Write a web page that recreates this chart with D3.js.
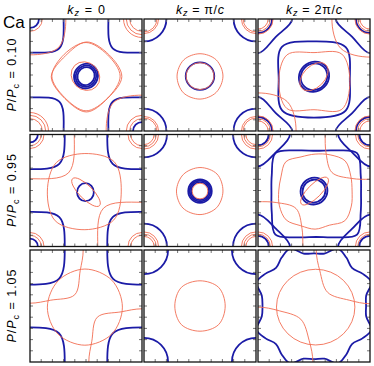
<!DOCTYPE html>
<html><head><meta charset="utf-8">
<script src="https://cdn.jsdelivr.net/npm/d3@7"></script>
<style>body{margin:0;background:#fff}svg{display:block}</style>
</head><body><svg id="c" width="374" height="366"></svg>
<script>
// ---- labels ----
const kzLabels = ["0", "π/", "2π/"];
const pLabels = ["0.10", "0.95", "1.05"];
const ALL = ["TL", "TR", "BL", "BR"];
// ---- contour data (k-space, panel spans -1..1); r = radii at evenly spaced angles from +kx, e = [a, b, tilt°] ----
const p010_kz0 = [
  {c:"b", at:ALL, r:[0.60,0.74,0.60,0.74,0.60,0.74,0.60,0.74]},
  {c:"b", at:["TL","BR"], e:[0.16,0.16,0]},
  {c:"b", at:[[0,-0.02]], e:[0.225,0.21,60]},
  {c:"b", at:[[0,-0.02]], e:[0.195,0.18,60]},
  {c:"b", at:[[0,-0.02]], e:[0.165,0.15,60]},
  {c:"r", at:["TL","BR"], r:[0.64,0.72,0.64,0.72,0.64,0.72,0.64,0.72]},
  {c:"r", at:ALL, e:[0.22,0.22,0]},
  {c:"r", at:["TR","BL","BR"], e:[0.28,0.28,0]},
  {c:"r", at:["TR","BL"], e:[0.33,0.33,0]},
  {c:"r", at:[[0,-0.02]], r:[0.61,0.54,0.60,0.55,0.61,0.54,0.62,0.55]},
  {c:"r", at:[[0.01,-0.03]], r:[0.63,0.56,0.62,0.53,0.63,0.55,0.63,0.54]},
  {c:"r", at:[[-0.01,-0.02]], e:[0.27,0.24,-45]}
];
const p010_kzPi = [
  {c:"b", at:ALL, e:[0.40,0.40,0]},
  {c:"b", at:[[0,-0.02]], e:[0.255,0.245,0]},
  {c:"r", at:ALL, e:[0.23,0.23,0]},
  {c:"r", at:ALL, e:[0.26,0.26,0]},
  {c:"r", at:[[0,-0.02]], r:[0.41,0.41,0.40,0.41,0.41,0.42,0.41,0.41]},
  {c:"r", at:[[0,-0.02]], e:[0.25,0.24,0]}
];
const p010_kz2Pi = [
  {c:"b", at:ALL, r:[0.61,0.45,0.61,0.45,0.61,0.45,0.61,0.45]},
  {c:"b", at:ALL, e:[0.25,0.25,0]},
  {c:"b", at:[[0,-0.07]], r:[0.64,0.80,0.67,0.81,0.63,0.80,0.69,0.80]},
  {c:"b", at:[[0,-0.03]], e:[0.28,0.26,45]},
  {c:"b", at:[[0,-0.03]], e:[0.245,0.23,45]},
  {c:"r", at:ALL, e:[0.18,0.18,0]},
  {c:"r", at:ALL, e:[0.22,0.22,0]},
  {c:"r", at:ALL, e:[0.27,0.27,0]},
  {c:"r", at:["TR","BL"], r:[0.68,0.74,0.68,0.74,0.68,0.74,0.68,0.74]},
  {c:"r", at:[[0,-0.12]], r:[0.64,0.70,0.52,0.68,0.63,0.68,0.50,0.70]},
  {c:"r", at:[[0,-0.03]], e:[0.30,0.19,45]}
];
const p095_kz0 = [
  {c:"b", at:ALL, r:[0.62,0.74,0.62,0.74,0.62,0.74,0.62,0.74]},
  {c:"b", at:["TL","BL"], e:[0.14,0.14,0]},
  {c:"b", at:[[-0.01,-0.03]], e:[0.16,0.15,90]},
  {c:"r", at:["TL","BR"], r:[0.79,0.97,0.79,0.97,0.79,0.97,0.79,0.97]},
  {c:"r", at:ALL, e:[0.20,0.20,0]},
  {c:"r", at:ALL, e:[0.25,0.25,0]},
  {c:"r", at:[[-0.02,-0.01]], r:[0.65,0.74,0.67,0.72,0.67,0.75,0.69,0.73]},
  {c:"r", at:[[0,-0.03]], e:[0.34,0.12,-45]}
];
const p095_kzPi = [
  {c:"b", at:ALL, e:[0.41,0.41,0]},
  {c:"b", at:[[0,-0.01]], e:[0.21,0.21,0]},
  {c:"b", at:[[0,-0.01]], e:[0.185,0.185,0]},
  {c:"b", at:[[0,-0.01]], e:[0.16,0.16,0]},
  {c:"r", at:ALL, e:[0.18,0.18,0]},
  {c:"r", at:ALL, e:[0.22,0.22,0]},
  {c:"r", at:ALL, e:[0.26,0.26,0]},
  {c:"r", at:[[0,-0.01]], r:[0.41,0.43,0.42,0.42,0.42,0.43,0.42,0.42]},
  {c:"r", at:[[0,-0.01]], e:[0.14,0.14,0]}
];
const p095_kz2Pi = [
  {c:"b", at:ALL, r:[0.57,0.45,0.57,0.45,0.57,0.45,0.57,0.45]},
  {c:"b", at:ALL, e:[0.19,0.19,0]},
  {c:"b", at:[[0.04,-0.06]], r:[0.80,0.86,1.03,0.84,0.77,0.84,1.03,0.86,0.80,0.86,1.03,0.84,0.77,0.84,1.03,0.86]},
  {c:"b", at:[[0,-0.01]], e:[0.245,0.235,45]},
  {c:"b", at:[[0,-0.01]], e:[0.21,0.20,45]},
  {c:"r", at:ALL, e:[0.22,0.22,0]},
  {c:"r", at:ALL, e:[0.26,0.26,0]},
  {c:"r", at:["TR","BL"], r:[0.80,0.85,0.96,0.85,0.80,0.85,0.96,0.85,0.80,0.85,0.96,0.85,0.80,0.85,0.96,0.85]},
  {c:"r", at:[[0.02,-0.01]], r:[0.66,0.69,0.76,0.70,0.66,0.66,0.74,0.66,0.65,0.69,0.73,0.67,0.68,0.66,0.75,0.70]},
  {c:"r", at:[[0.01,-0.01]], e:[0.33,0.12,45]}
];
const p105_kz0 = [
  {c:"b", at:ALL, r:[0.62,0.73,0.62,0.73,0.62,0.73,0.62,0.73]},
  {c:"r", at:["TL","BR"], r:[0.95,0.97,1.13,0.97,0.95,0.97,1.13,0.97,0.95,0.97,1.13,0.97,0.95,0.97,1.13,0.97]},
  {c:"r", at:[[-0.02,-0.02]], r:[0.67,0.68,0.68,0.67,0.67,0.68,0.68,0.68]}
];
const p105_kzPi = [
  {c:"b", at:ALL, e:[0.43,0.43,0]},
  {c:"r", at:[[0,0]], r:[0.45,0.47,0.45,0.47,0.45,0.47,0.45,0.47]}
];
const p105_kz2Pi = [
  {c:"b", at:[[0,0]], r:[0.93,0.95,1.11,1.04,0.96,1.04,1.11,0.955,
                         0.94,0.955,1.11,1.04,0.96,1.04,1.11,0.95,
                         0.92,0.95,1.11,1.04,0.96,1.04,1.11,0.96,
                         0.95,0.96,1.11,1.04,0.96,1.04,1.11,0.95]},
  {c:"r", at:["TR"], r:[0.96,0.97,1.07,0.97,0.96,0.97,1.07,0.97,0.96,0.97,1.07,0.97,0.96,0.97,1.07,0.97]},
  {c:"r", at:["BL"], r:[0.98,0.99,1.08,0.99,0.98,0.99,1.08,0.99,0.98,0.99,1.08,0.99,0.98,0.99,1.08,0.99]},
  {c:"r", at:[[0.03,-0.02]], e:[0.70,0.676,0]}
];
const panels = [
  [p010_kz0, p010_kzPi, p010_kz2Pi],
  [p095_kz0, p095_kzPi, p095_kz2Pi],
  [p105_kz0, p105_kzPi, p105_kz2Pi]
];

// ---- layout / style ----
const S = 112, colX = [30, 144, 258], rowY = [19, 134.5, 250];
const color = {b:"#1b1ba6", r:"#f26d52"};
const width = {b:1.8, r:0.9};
const corner = {TL:[-1,1], TR:[1,1], BL:[-1,-1], BR:[1,-1]};
const FONT = "'Liberation Sans', Arial, Helvetica, sans-serif";

const svg = d3.select("#c");
const x = d3.scaleLinear().domain([-1, 1]).range([0, S]);
const y = d3.scaleLinear().domain([-1, 1]).range([S, 0]);
const line = d3.line().x(d => x(d[0])).y(d => y(d[1])).curve(d3.curveCatmullRomClosed.alpha(0.5));
const ticks = d3.range(-0.8, 0.81, 0.2);

panels.forEach((row, ri) => row.forEach((shapes, ci) => {
  const g = svg.append("g").attr("transform", `translate(${colX[ci]},${rowY[ri]})`);
  const id = `clip${ri}${ci}`;
  g.append("clipPath").attr("id", id).append("rect").attr("width", S).attr("height", S);
  const cg = g.append("g").attr("clip-path", `url(#${id})`);
  const ordered = shapes.filter(s => s.c === "b").concat(shapes.filter(s => s.c === "r"));
  ordered.forEach(s => {
    s.at.forEach(a => {
      const [cx, cy] = typeof a === "string" ? corner[a] : a;
      let el;
      if (s.e) {
        el = cg.append("ellipse")
          .attr("cx", x(cx)).attr("cy", y(cy))
          .attr("rx", x(s.e[0]) - x(0)).attr("ry", x(s.e[1]) - x(0))
          .attr("transform", `rotate(${-s.e[2]},${x(cx)},${y(cy)})`);
      } else {
        const n = s.r.length;
        const pts = s.r.map((r, i) => [cx + r * Math.cos(2 * Math.PI * i / n), cy + r * Math.sin(2 * Math.PI * i / n)]);
        el = cg.append("path").attr("d", line(pts));
      }
      el.attr("fill", "none").attr("stroke", color[s.c]).attr("stroke-width", width[s.c]);
    });
  });
  // ticks
  const tk = g.append("g").attr("stroke", "#666").attr("stroke-width", 0.9);
  ticks.forEach(t => {
    tk.append("line").attr("x1", x(t)).attr("x2", x(t)).attr("y1", 0).attr("y2", 3);
    tk.append("line").attr("x1", x(t)).attr("x2", x(t)).attr("y1", S).attr("y2", S - 3);
    tk.append("line").attr("y1", y(t)).attr("y2", y(t)).attr("x1", 0).attr("x2", 3);
    tk.append("line").attr("y1", y(t)).attr("y2", y(t)).attr("x1", S).attr("x2", S - 3);
  });
  g.append("rect").attr("width", S).attr("height", S).attr("fill", "none")
    .attr("stroke", "#111").attr("stroke-width", 1.3);
}));

// column titles
const titleW = [37.7, 48, 56];
kzLabels.forEach((lab, ci) => {
  const t = svg.append("text").attr("x", colX[ci] + S / 2).attr("y", 13.5)
    .attr("text-anchor", "middle").attr("font-family", FONT).attr("font-size", 12.5)
    .attr("textLength", titleW[ci]).attr("lengthAdjust", "spacing");
  t.append("tspan").attr("font-style", "italic").text("k");
  t.append("tspan").attr("font-style", "italic").attr("font-size", 9).attr("dy", 2.5).text("z");
  t.append("tspan").attr("dy", -2.5).text(" = " + lab);
  if (ci > 0) t.append("tspan").attr("font-style", "italic").text("c");
});
// row labels
pLabels.forEach((lab, ri) => {
  const t = svg.append("text")
    .attr("transform", `translate(16,${rowY[ri] + S / 2}) rotate(-90)`)
    .attr("text-anchor", "middle").attr("font-family", FONT).attr("font-size", 12.5)
    .attr("textLength", 73).attr("lengthAdjust", "spacing");
  t.append("tspan").attr("font-style", "italic").text("P");
  t.append("tspan").text("/");
  t.append("tspan").attr("font-style", "italic").text("P");
  t.append("tspan").attr("font-size", 9).attr("dy", 2.5).text("c");
  t.append("tspan").attr("dy", -2.5).text(" = " + lab);
});
svg.append("text").attr("x", 3).attr("y", 28).attr("font-family", FONT).attr("font-size", 17).text("Ca");
</script></body></html>
